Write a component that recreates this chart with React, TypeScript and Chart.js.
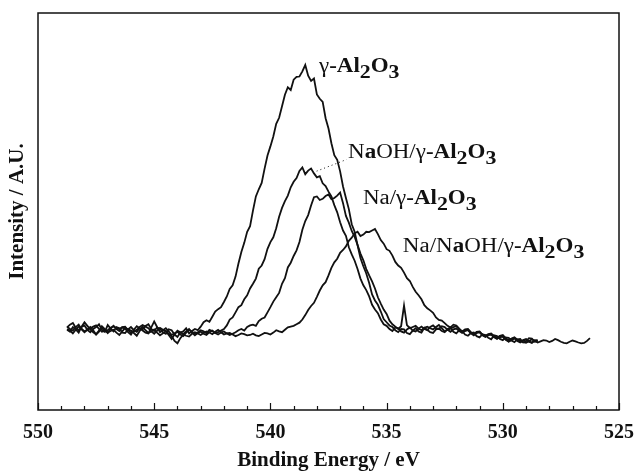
import React, { useEffect, useRef } from "react";
import { Chart, registerables } from "chart.js";

Chart.register(...registerables);

// Binding energy grid (eV)
const energy = [
  548.75, 548.625, 548.5, 548.375, 548.25, 548.125, 548, 547.875,
  547.75, 547.625, 547.5, 547.375, 547.25, 547.125, 547, 546.875,
  546.75, 546.625, 546.5, 546.375, 546.25, 546.125, 546, 545.875,
  545.75, 545.625, 545.5, 545.375, 545.25, 545.125, 545, 544.875,
  544.75, 544.625, 544.5, 544.375, 544.25, 544.125, 544, 543.875,
  543.75, 543.625, 543.5, 543.375, 543.25, 543.125, 543, 542.875,
  542.75, 542.625, 542.5, 542.375, 542.25, 542.125, 542, 541.875,
  541.75, 541.625, 541.5, 541.375, 541.25, 541.125, 541, 540.875,
  540.75, 540.625, 540.5, 540.375, 540.25, 540.125, 540, 539.875,
  539.75, 539.625, 539.5, 539.375, 539.25, 539.125, 539, 538.875,
  538.75, 538.625, 538.5, 538.375, 538.25, 538.125, 538, 537.875,
  537.75, 537.625, 537.5, 537.375, 537.25, 537.125, 537, 536.875,
  536.75, 536.625, 536.5, 536.375, 536.25, 536.125, 536, 535.875,
  535.75, 535.625, 535.5, 535.375, 535.25, 535.125, 535, 534.875,
  534.75, 534.625, 534.5, 534.375, 534.25, 534.125, 534, 533.875,
  533.75, 533.625, 533.5, 533.375, 533.25, 533.125, 533, 532.875,
  532.75, 532.625, 532.5, 532.375, 532.25, 532.125, 532, 531.875,
  531.75, 531.625, 531.5, 531.375, 531.25, 531.125, 531, 530.875,
  530.75, 530.625, 530.5, 530.375, 530.25, 530.125, 530, 529.875,
  529.75, 529.625, 529.5, 529.375, 529.25, 529.125, 529, 528.875,
  528.75, 528.625, 528.5, 528.375, 528.25, 528.125, 528, 527.875,
  527.75, 527.625, 527.5, 527.375, 527.25, 527.125, 527, 526.875,
  526.75, 526.625, 526.5, 526.375, 526.25,
];

// Intensity (a.u.), one value per energy point
const gammaAl2O3 = [
  20.8, 21.5, 21.9, 20.7, 20.1, 20.9, 21.3, 20.2,
  19.6, 20.4, 20.9, 21.6, 20.2, 19.7, 21.4, 20.5,
  19.8, 20.9, 20.6, 19.5, 19.4, 20.3, 20.9, 20.1,
  19.7, 20.6, 20.3, 21.2, 21.6, 20.4, 19.9, 20.8,
  20.4, 19.6, 19.2, 20.3, 20.1, 19.0, 18.4, 19.5,
  19.8, 20.6, 19.3, 19.9, 20.4, 20.1, 21.0, 22.1,
  22.6, 22.2, 23.5, 24.8, 25.4, 25.9, 27.2, 28.6,
  30.5, 31.4, 33.6, 36.9, 39.8, 42.1, 44.9, 46.3,
  50.2, 53.8, 55.6, 57.2, 60.8, 64.1, 66.4, 68.9,
  72.1, 73.6, 76.5, 79.4, 81.3, 80.6, 83.2, 83.9,
  84.0, 85.3, 86.9, 84.2, 82.9, 83.5, 79.5, 78.4,
  77.6, 73.5, 70.9, 67.2, 64.2, 63.0, 60.1, 56.3,
  53.4, 50.6, 46.8, 44.9, 41.5, 38.3, 36.2, 34.4,
  32.0, 29.1, 27.6, 26.5, 24.8, 22.9, 22.1, 21.3,
  20.9, 20.1, 19.6, 20.4, 20.3, 19.4, 19.1, 20.0,
  20.6, 19.8, 19.5, 20.7, 20.2, 19.6, 19.4, 20.3,
  20.5, 19.9, 19.6, 20.4, 20.8, 19.7, 19.3, 20.1,
  19.9, 19.0, 18.7, 19.4, 19.5, 18.6, 18.3, 19.1,
  18.9, 18.2, 17.8, 18.8, 18.6, 17.9, 17.6, 18.3,
  18.2, 17.5, 17.1, 17.8, 17.9, 17.0, 17.3, 18.1,
  18.0, 17.2, 17.4,
];

const naohGammaAl2O3 = [
  20.2, 19.7, 20.9, 20.3, 19.5, 21.0, 22.1, 21.2,
  20.3, 19.6, 19.1, 20.0, 20.7, 20.1, 19.4, 20.5,
  21.2, 20.4, 19.9, 20.8, 20.5, 19.6, 19.0, 20.2,
  21.1, 20.6, 20.0, 19.5, 19.3, 20.8, 22.3, 20.9,
  19.6, 20.1, 20.6, 19.8, 18.9, 19.3, 19.7, 19.0,
  18.6, 19.5, 20.2, 19.7, 19.2, 19.6, 20.1, 19.8,
  19.3, 20.2, 19.9, 19.4, 19.6, 20.0, 20.4, 21.3,
  22.8, 23.3, 24.6, 25.9, 26.4, 27.9, 28.9, 30.6,
  31.8, 33.1, 35.6, 36.4, 38.0, 40.6, 42.3, 43.5,
  45.8, 48.7, 50.9, 52.6, 54.0, 56.1, 57.5, 58.4,
  60.2, 61.1, 59.4, 60.3, 60.8, 59.6, 58.6, 58.9,
  57.1, 56.4, 55.0, 53.8, 51.6, 49.8, 47.3, 45.2,
  43.9, 41.0, 39.2, 37.6, 35.5, 33.1, 31.4, 30.2,
  28.6, 26.5, 25.3, 24.4, 22.8, 21.6, 21.2, 20.4,
  19.9, 20.8, 20.6, 19.8, 19.5, 20.3, 20.8, 20.0,
  19.8, 20.5, 21.0, 20.4, 20.1, 20.9, 21.3, 20.6,
  20.4, 21.1, 20.9, 20.2, 19.7, 20.3, 20.5, 19.9,
  19.4, 19.9, 20.1, 19.3, 18.8, 19.5, 19.6, 18.9,
  18.5, 18.9, 19.0, 18.3, 17.9, 18.6, 18.4, 17.7,
  17.3, 17.9, 18.1, 17.4, 17.0, 17.5, 17.7, 17.2,
  16.9, 17.6, 17.5,
];

const naGammaAl2O3 = [
  20.4, 20.0, 19.3, 20.2, 21.0, 20.5, 19.8, 20.3,
  20.9, 20.1, 19.0, 19.7, 21.1, 20.4, 19.5, 19.9,
  20.2, 19.5, 18.9, 19.8, 20.7, 20.3, 20.0, 19.4,
  18.7, 19.9, 21.0, 20.1, 19.4, 19.8, 20.3, 19.5,
  18.8, 19.3, 19.9, 18.9, 17.9, 19.0, 20.0, 19.6,
  19.1, 19.8, 20.4, 19.5, 18.8, 19.4, 19.7, 19.2,
  18.9, 19.6, 20.0, 19.4, 19.0, 19.5, 19.8, 19.3,
  18.9, 19.2, 19.6, 20.1, 20.4, 20.0, 20.9, 21.3,
  21.5, 21.2, 22.4, 23.0, 23.3, 24.6, 25.9, 27.3,
  28.4, 29.5, 31.8, 33.2, 35.9, 37.1, 38.8, 40.2,
  42.3, 45.4, 47.6, 49.1, 51.5, 53.6, 53.8, 52.9,
  53.2, 53.9, 54.3, 53.1, 53.4, 54.0, 54.8, 52.1,
  48.9, 47.2, 45.1, 43.6, 41.6, 39.4, 37.7, 35.5,
  33.9, 32.4, 30.6, 28.4, 26.8, 25.3, 24.2, 22.5,
  21.6, 21.0, 20.4, 21.1, 26.3, 21.4, 20.6, 20.9,
  21.2, 20.5, 20.1, 20.7, 21.0, 20.6, 20.3, 20.9,
  21.4, 20.6, 19.8, 20.2, 20.5, 20.9, 21.1, 20.3,
  19.6, 20.0, 20.2, 19.5, 19.1, 19.7, 19.8, 19.0,
  18.7, 19.1, 19.3, 18.6, 18.2, 18.7, 18.9, 18.1,
  17.6, 18.0, 18.3, 17.7, 17.2, 17.6, 17.9, 17.3,
  17.0, 17.4, 17.6,
];

const naNaohGammaAl2O3 = [
  21.0, 20.4, 20.0, 20.9, 21.5, 20.3, 19.6, 20.2,
  20.6, 21.0, 21.3, 20.4, 19.7, 19.9, 20.1, 20.7,
  21.1, 20.6, 20.4, 20.9, 21.0, 20.1, 19.5, 19.8,
  20.2, 20.9, 21.4, 21.0, 20.6, 19.8, 19.2, 20.0,
  20.7, 20.2, 19.9, 19.2, 18.6, 17.4, 16.8, 18.1,
  19.0, 18.7, 18.5, 19.2, 19.6, 19.3, 18.9, 19.4,
  19.8, 19.5, 19.1, 19.7, 20.2, 19.6, 19.0, 19.3,
  19.4, 19.0, 18.6, 18.9, 19.3, 19.1, 18.8, 18.9,
  19.2, 18.8, 18.6, 19.0, 19.4, 19.3, 19.0, 19.5,
  20.1, 19.8, 19.6, 20.2, 20.8, 21.0, 21.2, 21.6,
  22.0, 22.8, 23.9, 25.2, 26.2, 27.0, 28.5, 30.1,
  31.4, 32.2, 33.9, 35.8, 37.2, 38.1, 39.6, 40.3,
  41.2, 42.6, 43.4, 44.5, 44.9, 43.8, 44.2, 44.9,
  44.8, 45.2, 45.6, 44.3, 42.8, 41.9, 40.5, 40.1,
  38.9, 37.3, 36.4, 35.8, 34.6, 33.2, 32.5, 31.0,
  29.8, 28.9, 27.9, 26.4, 25.6, 25.1, 24.5, 23.3,
  22.7, 22.5, 21.9, 21.2, 20.8, 21.5, 21.3, 20.5,
  19.8, 20.3, 20.4, 19.6, 19.0, 19.4, 19.6, 18.8,
  18.4, 18.9, 19.1, 18.5, 18.0, 18.3, 18.6, 17.8,
  17.2, 17.6, 18.0, 17.7, 17.4, 17.1, 16.9, 17.3,
  17.8, 17.4, 17.0, 17.3, 17.6, 17.5, 17.1, 17.4,
  17.9, 17.6, 17.2, 16.9, 16.8, 17.2, 17.5, 17.3,
  17.0, 16.8, 16.9, 17.4, 18.1,
];

const seriesNames = [
  "γ-Al2O3",
  "NaOH/γ-Al2O3",
  "Na/γ-Al2O3",
  "Na/NaOH/γ-Al2O3",
];
const seriesValues = [gammaAl2O3, naohGammaAl2O3, naGammaAl2O3, naNaohGammaAl2O3];

const xMajorTicks = [550, 545, 540, 535, 530, 525];
const xTitle = "Binding Energy / eV";
const yTitle = "Intensity / A.U.";

// Curve labels: [text, bold, subscript]
type Part = [string, boolean, boolean];
const labelParts: Part[][] = [
  [["γ", false, false], ["-Al", true, false], ["2", true, true], ["O", true, false], ["3", true, true]],
  [["N", false, false], ["a", true, false], ["OH/γ", false, false], ["-Al", true, false], ["2", true, true], ["O", true, false], ["3", true, true]],
  [["Na/γ", false, false], ["-Al", true, false], ["2", true, true], ["O", true, false], ["3", true, true]],
  [["Na/N", false, false], ["a", true, false], ["OH/γ", false, false], ["-Al", true, false], ["2", true, true], ["O", true, false], ["3", true, true]],
];
// label anchors in data units (energy, intensity)
const labelAnchorE = [537.91, 536.66, 536.02, 534.3];
const labelAnchorV = [85.1, 63.6, 51.8, 39.9];
// dotted leader from NaOH curve peak to its label
const leaderE = [538.17, 536.72];
const leaderV = [59.8, 63.1];

const FONT = '"Liberation Serif", "Times New Roman", Times, serif';

const decorPlugin = {
  id: "decor",
  afterDraw(chart: any) {
    const { ctx, chartArea } = chart;
    const xs = chart.scales.x;
    const ys = chart.scales.y;
    ctx.save();
    // frame
    ctx.strokeStyle = "#111";
    ctx.lineWidth = 1.5;
    ctx.strokeRect(chartArea.left, chartArea.top, chartArea.right - chartArea.left, chartArea.bottom - chartArea.top);
    // inward ticks
    ctx.lineWidth = 1.2;
    for (let v = 525; v <= 550; v += 1) {
      const px = Math.round(xs.getPixelForValue(v)) + 0.5;
      const len = v % 5 === 0 ? 7 : 4;
      ctx.beginPath();
      ctx.moveTo(px, chartArea.bottom);
      ctx.lineTo(px, chartArea.bottom - len);
      ctx.stroke();
    }
    // leader
    ctx.setLineDash([1, 3]);
    ctx.lineWidth = 1;
    ctx.beginPath();
    ctx.moveTo(xs.getPixelForValue(leaderE[0]), ys.getPixelForValue(leaderV[0]));
    ctx.lineTo(xs.getPixelForValue(leaderE[1]), ys.getPixelForValue(leaderV[1]));
    ctx.stroke();
    ctx.setLineDash([]);
    // labels
    ctx.fillStyle = "#111";
    ctx.textBaseline = "alphabetic";
    ctx.textAlign = "left";
    labelParts.forEach((parts, i) => {
      const x0 = xs.getPixelForValue(labelAnchorE[i]);
      const y0 = ys.getPixelForValue(labelAnchorV[i]);
      ctx.save();
      ctx.translate(x0, y0);
      ctx.scale(1.15, 1);
      let cx = 0;
      for (const [t, bold, sub] of parts) {
        ctx.font = `${bold ? "bold " : ""}${sub ? 19 : 20}px ${FONT}`;
        ctx.fillText(t, cx, sub ? 6 : 0);
        cx += ctx.measureText(t).width;
      }
      ctx.restore();
    });
    ctx.restore();
  },
};

export default function App() {
  const ref = useRef<HTMLCanvasElement | null>(null);
  useEffect(() => {
    document.body.style.margin = "0";
    const canvas = ref.current;
    if (!canvas) return;
    const datasets = seriesValues.map((vals, k) => ({
      label: seriesNames[k],
      data: vals.map((v, i) => ({ x: energy[i], y: v })),
      borderColor: "#111",
      borderWidth: 1.8,
      pointRadius: 0,
      fill: false,
      tension: 0,
    }));
    const chart = new Chart(canvas, {
      type: "line",
      data: { datasets },
      options: {
        animation: false,
        responsive: false,
        maintainAspectRatio: false,
        layout: { padding: { top: 13, right: 15, left: 0, bottom: 0 } },
        plugins: { legend: { display: false }, tooltip: { enabled: false } },
        scales: {
          x: {
            type: "linear",
            min: 525,
            max: 550,
            reverse: true,
            grid: { display: false },
            border: { display: false },
            afterFit: (s: any) => { s.height = 63; s.paddingRight = 0; s.paddingLeft = 0; },
            afterBuildTicks: (s: any) => { s.ticks = xMajorTicks.map((v) => ({ value: v })); },
            ticks: {
              padding: 3,
              color: "#111",
              font: { family: FONT, size: 20, weight: "bold" },
              maxRotation: 0,
              callback: (v: any) => String(v),
            },
            title: {
              display: true,
              text: xTitle,
              color: "#111",
              font: { family: FONT, size: 21, weight: "bold" },
              padding: { top: 0, bottom: 0 },
            },
          },
          y: {
            type: "linear",
            min: 0,
            max: 100,
            grid: { display: false },
            border: { display: false },
            ticks: { display: false },
            afterFit: (s: any) => { s.width = 38; },
            title: {
              display: true,
              text: yTitle,
              color: "#111",
              font: { family: FONT, size: 21, weight: "bold" },
              padding: { top: 5, bottom: 0 },
            },
          },
        },
      },
      plugins: [decorPlugin],
    });
    return () => chart.destroy();
  }, []);
  return (
    <div style={{ width: 634, height: 473, background: "#fff" }}>
      <canvas ref={ref} width={634} height={473} style={{ display: "block" }} />
    </div>
  );
}
